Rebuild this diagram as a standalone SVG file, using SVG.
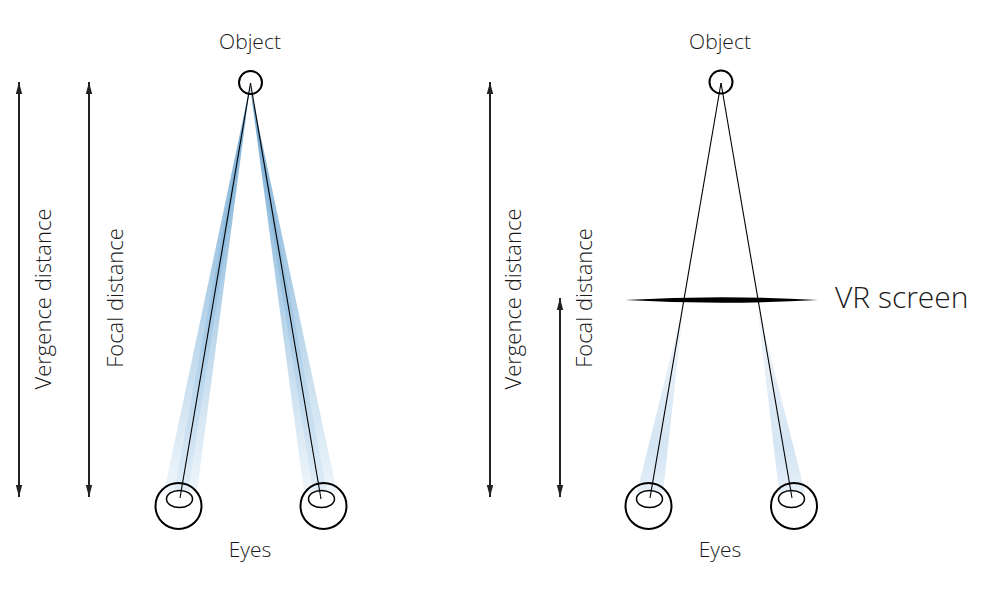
<svg xmlns="http://www.w3.org/2000/svg" width="1000" height="600" viewBox="0 0 1000 600">
<defs>
<style>
.t{font-family:"Open Sans","Liberation Sans",sans-serif;font-weight:300;fill:#1a1a1a;font-size:21px}
.r{font-size:22px}
.ax{stroke:#222;stroke-width:2;fill:none}
.ray{stroke:#000;stroke-width:1.1;fill:none}
.ci{stroke:#000;stroke-width:1.5;fill:none}
.eo{stroke:#000;stroke-width:2;fill:none}
</style>
<marker id="ah" viewBox="0 0 12 8" refX="12" refY="4" markerWidth="12" markerHeight="8" markerUnits="userSpaceOnUse" orient="auto-start-reverse">
<path d="M0,0.8 L12,4 L0,7.2 Z" fill="#222"/>
</marker>
<linearGradient id="gL" gradientUnits="userSpaceOnUse" x1="0" y1="90" x2="0" y2="495">
<stop offset="0" stop-color="#78acd4"/>
<stop offset="0.55" stop-color="#b5d3ea"/>
<stop offset="1" stop-color="#eff6fb"/>
</linearGradient>
<linearGradient id="gLc" gradientUnits="userSpaceOnUse" x1="0" y1="90" x2="0" y2="495">
<stop offset="0" stop-color="#6ea6d0"/>
<stop offset="0.55" stop-color="#a3c8e5"/>
<stop offset="1" stop-color="#e2eef8"/>
</linearGradient>
<linearGradient id="gR" gradientUnits="userSpaceOnUse" x1="0" y1="300" x2="0" y2="495">
<stop offset="0" stop-color="#f4f8fc"/>
<stop offset="0.75" stop-color="#d4e5f3"/>
<stop offset="1" stop-color="#e6f0f9"/>
</linearGradient>
</defs>
<rect width="1000" height="600" fill="#fff"/>

<g id="beams">
<polygon points="250,86 164,492 197,492" fill="url(#gL)"/>
<polygon points="250,86 174,492 188,492" fill="url(#gLc)"/>
<polygon points="250,86 304,492 337,492" fill="url(#gL)"/>
<polygon points="250,86 313,492 327,492" fill="url(#gLc)"/>
<polygon points="684,303 637,492 663,492" fill="url(#gR)"/>
<polygon points="757,303 779,492 805,492" fill="url(#gR)"/>
</g>

<g id="connectors">
<line class="ax" x1="19" y1="82" x2="19" y2="497" marker-start="url(#ah)" marker-end="url(#ah)"/>
<line class="ax" x1="89" y1="82" x2="89" y2="497" marker-start="url(#ah)" marker-end="url(#ah)"/>
<line class="ax" x1="490" y1="82" x2="490" y2="497" marker-start="url(#ah)" marker-end="url(#ah)"/>
<line class="ax" x1="560" y1="298" x2="560" y2="497" marker-start="url(#ah)" marker-end="url(#ah)"/>
<line class="ray" x1="250.5" y1="83" x2="180" y2="498"/>
<line class="ray" x1="250.5" y1="83" x2="321" y2="499"/>
<line class="ray" x1="721" y1="83" x2="650" y2="498"/>
<line class="ray" x1="721" y1="83" x2="792" y2="498"/>
</g>

<g id="object-left">
<circle class="eo" cx="250.5" cy="82.5" r="11.5"/>
<text class="t" x="250" y="49" text-anchor="middle">Object</text>
</g>
<g id="object-right">
<circle class="eo" cx="721" cy="82" r="11.5"/>
<text class="t" x="720" y="49" text-anchor="middle">Object</text>
</g>

<g id="eyes-left">
<circle class="eo" cx="178.5" cy="506" r="23"/>
<ellipse class="ci" cx="179.5" cy="499" rx="13" ry="8.5"/>
<circle class="eo" cx="323.5" cy="506" r="23"/>
<ellipse class="ci" cx="321.5" cy="499" rx="13" ry="8.5"/>
<text class="t" x="250" y="557" text-anchor="middle">Eyes</text>
</g>
<g id="eyes-right">
<circle class="eo" cx="648.5" cy="506" r="23"/>
<ellipse class="ci" cx="649.5" cy="499" rx="13" ry="8.5"/>
<circle class="eo" cx="794" cy="506" r="23"/>
<ellipse class="ci" cx="791.5" cy="499" rx="13" ry="8.5"/>
<text class="t" x="720" y="557" text-anchor="middle">Eyes</text>
</g>

<g id="vr-screen">
<path d="M625,300 Q721,294.5 818,300 Q721,305.5 625,300 Z" fill="#000"/>
<text class="t" x="835" y="308" style="font-size:30px">VR screen</text>
</g>

<g id="labels">
<text class="t r" transform="translate(51,299) rotate(-90)" text-anchor="middle">Vergence distance</text>
<text class="t r" transform="translate(123,298) rotate(-90)" text-anchor="middle">Focal distance</text>
<text class="t r" transform="translate(521,299) rotate(-90)" text-anchor="middle">Vergence distance</text>
<text class="t r" transform="translate(592,298) rotate(-90)" text-anchor="middle">Focal distance</text>
</g>
</svg>
